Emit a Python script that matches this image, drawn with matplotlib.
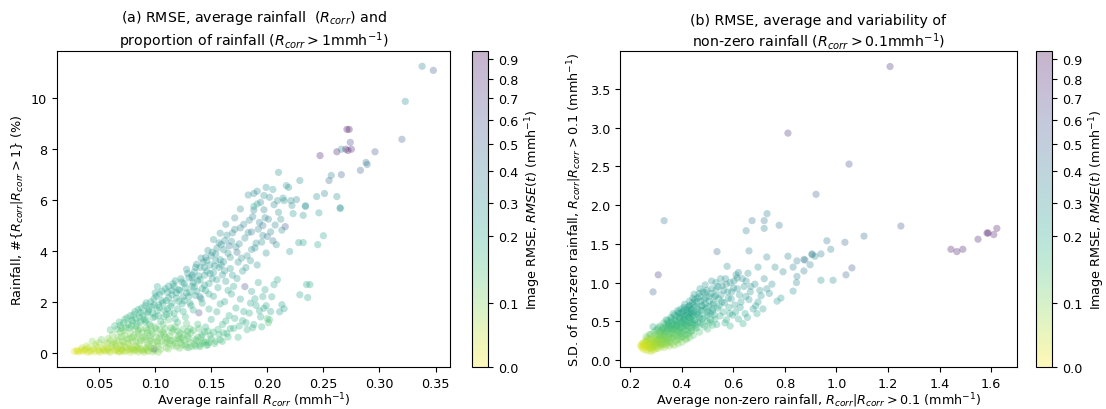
# RMSE vs rainfall statistics, two scatter panels with a stretched colour scale

import numpy as np
import matplotlib
matplotlib.use("Agg")
import matplotlib.pyplot as plt
from matplotlib.colors import FuncNorm

plt.rcParams["font.size"] = 9.2
plt.rcParams["axes.titlesize"] = 10.2

# ---- panel (a): average rainfall vs % of pixels > 1 mm/h, coloured by RMSE ----
a_x = [
    0.028, 0.030, 0.032, 0.034, 0.036, 0.038, 0.040, 0.041, 0.043, 0.045,
    0.046, 0.048, 0.050, 0.051, 0.053, 0.055, 0.056, 0.058, 0.060, 0.061,
    0.063, 0.064, 0.066, 0.068, 0.069, 0.071, 0.073, 0.074, 0.076, 0.078,
    0.079, 0.081, 0.083, 0.085, 0.086, 0.088, 0.090, 0.092, 0.094, 0.098,
    0.100, 0.103, 0.099, 0.044, 0.052, 0.057, 0.035, 0.047, 0.067, 0.082,
    0.058, 0.062, 0.066, 0.070, 0.072, 0.075, 0.078, 0.080, 0.082, 0.084,
    0.086, 0.088, 0.090, 0.092, 0.094, 0.095, 0.097, 0.099, 0.101, 0.103,
    0.104, 0.106, 0.108, 0.110, 0.111, 0.113, 0.115, 0.117, 0.119, 0.121,
    0.123, 0.125, 0.127, 0.130, 0.132, 0.135, 0.138, 0.140, 0.143, 0.146,
    0.150, 0.153, 0.157, 0.160, 0.165, 0.096, 0.107, 0.118, 0.128, 0.112,
    0.060, 0.064, 0.068, 0.070, 0.073, 0.076, 0.078, 0.080, 0.082, 0.084,
    0.086, 0.088, 0.090, 0.092, 0.093, 0.095, 0.097, 0.099, 0.100, 0.102,
    0.104, 0.105, 0.107, 0.109, 0.110, 0.112, 0.114, 0.116, 0.118, 0.119,
    0.121, 0.123, 0.125, 0.127, 0.129, 0.130, 0.132, 0.134, 0.136, 0.137,
    0.139, 0.141, 0.143, 0.144, 0.146, 0.148, 0.150, 0.151, 0.153, 0.155,
    0.156, 0.158, 0.160, 0.162, 0.163, 0.165, 0.167, 0.169, 0.170, 0.172,
    0.174, 0.176, 0.178, 0.180, 0.182, 0.184, 0.186, 0.188, 0.190, 0.192,
    0.194, 0.196, 0.198, 0.200, 0.202, 0.205, 0.207, 0.210, 0.213, 0.216,
    0.196, 0.180, 0.140, 0.139, 0.125, 0.115, 0.133, 0.145, 0.152, 0.158,
    0.163, 0.171, 0.176, 0.183, 0.191, 0.199, 0.166, 0.173, 0.186, 0.102,
    0.130, 0.136, 0.142, 0.145, 0.148, 0.150, 0.152, 0.155, 0.158, 0.160,
    0.162, 0.164, 0.166, 0.168, 0.170, 0.172, 0.174, 0.176, 0.178, 0.182,
    0.184, 0.186, 0.188, 0.190, 0.192, 0.194, 0.196, 0.198, 0.199, 0.200,
    0.201, 0.202, 0.204, 0.206, 0.209, 0.211, 0.213, 0.215, 0.229, 0.235,
    0.236, 0.238, 0.140, 0.147, 0.154,
    0.220, 0.228, 0.232, 0.245, 0.250, 0.232, 0.234, 0.246, 0.265, 0.223,
    0.188, 0.197, 0.205, 0.210, 0.217, 0.219, 0.229, 0.209, 0.215, 0.221,
    0.226, 0.234, 0.222, 0.188, 0.191, 0.244, 0.251, 0.262, 0.265, 0.255,
    0.257, 0.266, 0.247, 0.262, 0.266, 0.270, 0.272, 0.275, 0.274, 0.271,
    0.273, 0.283, 0.288, 0.289, 0.296, 0.320, 0.323, 0.338, 0.348,
    # denser band
    0.062, 0.067, 0.071, 0.074, 0.077, 0.079, 0.081, 0.083, 0.085, 0.087,
    0.089, 0.091, 0.093, 0.094, 0.096, 0.098, 0.100, 0.101, 0.103, 0.105,
    0.106, 0.108, 0.109, 0.111, 0.112, 0.114, 0.115, 0.117, 0.118, 0.120,
    0.121, 0.122, 0.124, 0.126, 0.127, 0.128, 0.129, 0.131, 0.133, 0.134,
    0.135, 0.137, 0.138, 0.140, 0.141, 0.142, 0.144, 0.145, 0.147, 0.148,
    0.149, 0.151, 0.152, 0.154, 0.155, 0.157, 0.158, 0.159, 0.161, 0.162,
    0.164, 0.165, 0.167, 0.168, 0.169, 0.171, 0.173, 0.175, 0.177, 0.179,
    0.181, 0.183, 0.185, 0.187, 0.189, 0.191, 0.193, 0.195, 0.197, 0.199,
    0.201, 0.203, 0.206, 0.208, 0.212, 0.214,
    # denser lower fill
    0.054, 0.059, 0.065, 0.070, 0.072, 0.077, 0.084, 0.087, 0.091, 0.093,
    0.096, 0.102, 0.105, 0.109, 0.112, 0.114, 0.116, 0.120, 0.122, 0.124,
    0.126, 0.128, 0.131, 0.134, 0.137, 0.139, 0.142, 0.144, 0.149, 0.156,
    0.161, 0.163, 0.167, 0.171, 0.175, 0.179, 0.181, 0.185, 0.187, 0.189,
    0.193, 0.195, 0.197, 0.203,
    # crowded core, bottom-left to mid band
    0.031, 0.037, 0.042, 0.049, 0.054, 0.059, 0.065, 0.070, 0.075, 0.080,
    0.084, 0.089, 0.093, 0.097, 0.039, 0.050, 0.060, 0.065, 0.071, 0.077,
    0.069, 0.073, 0.079, 0.083, 0.085, 0.087, 0.091, 0.093, 0.096, 0.098,
    0.100, 0.102, 0.104, 0.107, 0.109, 0.111, 0.113, 0.116, 0.118, 0.120,
    0.122, 0.124, 0.126, 0.129, 0.131, 0.133, 0.136, 0.141, 0.145, 0.147,
    0.066, 0.069, 0.072, 0.075, 0.077, 0.079, 0.081, 0.083, 0.085, 0.087,
    0.089, 0.091, 0.092, 0.094, 0.096, 0.098, 0.099, 0.101, 0.103, 0.104,
    0.106, 0.108, 0.110, 0.111, 0.113, 0.115, 0.117, 0.119, 0.120, 0.122,
    0.124, 0.126, 0.128, 0.130, 0.131, 0.133, 0.135, 0.136, 0.138, 0.140,
    0.142, 0.144, 0.146, 0.148, 0.149, 0.152, 0.154, 0.157, 0.159, 0.161,
]
a_y = [
    0.05, 0.09, 0.03, 0.11, 0.06, 0.14, 0.02, 0.20, 0.08, 0.15,
    0.04, 0.24, 0.10, 0.02, 0.17, 0.31, 0.06, 0.12, 0.02, 0.23,
    0.42, 0.08, 0.15, 0.03, 0.29, 0.11, 0.05, 0.21, 0.36, 0.02,
    0.13, 0.07, 0.26, 0.03, 0.16, 0.08, 0.02, 0.19, 0.05, 0.04,
    0.09, 0.02, 0.15, 0.45, 0.52, 0.38, 0.20, 0.33, 0.05, 0.12,
    0.56, 0.71, 0.49, 0.63, 0.86, 0.54, 0.76, 0.44, 0.92, 0.61,
    0.35, 0.81, 0.51, 0.97, 0.30, 0.66, 0.85, 0.41, 0.62, 0.26,
    0.91, 0.46, 0.72, 0.19, 0.56, 0.36, 0.82, 0.50, 0.24, 0.67,
    0.40, 0.93, 0.31, 0.56, 0.77, 0.34, 0.61, 0.24, 0.46, 0.29,
    0.55, 0.36, 0.71, 0.45, 0.62, 1.05, 1.12, 1.02, 1.15, 1.30,
    0.90, 1.06, 1.21, 0.96, 1.32, 1.11, 1.46, 1.24, 1.62, 1.16,
    1.41, 1.76, 1.31, 1.96, 1.56, 1.12, 1.81, 2.12, 1.42, 1.66,
    2.31, 1.22, 1.96, 2.52, 1.51, 2.16, 1.82, 2.71, 1.33, 2.36,
    2.02, 2.91, 1.62, 2.56, 3.12, 2.21, 1.86, 2.76, 3.36, 2.41,
    3.02, 2.12, 3.56, 2.66, 3.21, 2.31, 3.81, 2.91, 3.41, 4.11,
    2.56, 3.66, 3.06, 4.41, 2.81, 3.91, 3.31, 4.71, 2.61, 4.16,
    3.56, 4.91, 3.21, 4.51, 3.81, 5.21, 4.06, 5.61, 4.31, 4.86,
    5.91, 4.61, 5.31, 4.57, 6.11, 4.40, 5.02, 5.52, 4.82, 4.96,
    5.00, 2.60, 2.20, 1.57, 2.20, 2.45, 2.95, 3.75, 4.45, 4.70,
    5.05, 5.30, 5.65, 6.20, 6.35, 6.50, 4.20, 3.95, 4.75, 2.60,
    0.20, 0.26, 0.71, 1.01, 0.41, 1.31, 0.81, 1.61, 0.51, 1.11,
    2.01, 0.76, 1.46, 2.31, 0.96, 1.76, 0.61, 2.11, 1.26, 0.91,
    1.56, 2.41, 1.11, 1.86, 2.76, 1.41, 2.21, 2.48, 1.85, 1.34,
    1.18, 1.30, 2.20, 2.68, 2.87, 1.61, 1.89, 1.73, 2.28, 2.68,
    2.17, 2.68, 0.30, 0.32, 0.45,
    3.98, 4.33, 4.33, 4.25, 4.60, 5.40, 5.75, 5.50, 5.67, 5.47,
    6.26, 6.18, 6.42, 7.09, 6.57, 6.50, 6.77, 5.98, 5.98, 5.98,
    6.02, 5.78, 5.79, 5.75, 5.85, 6.14, 6.26, 6.14, 5.70, 6.77,
    6.97, 7.00, 7.75, 7.90, 8.00, 8.00, 7.95, 8.00, 8.27, 8.78,
    8.78, 7.17, 7.48, 7.40, 7.90, 8.39, 9.88, 11.26, 11.10,
    # denser band
    0.33, 0.61, 0.44, 0.97, 0.28, 1.05, 0.67, 1.35, 0.88, 1.58,
    0.59, 1.22, 0.78, 1.71, 0.47, 1.38, 2.35, 0.95, 1.88, 0.72,
    2.05, 1.41, 0.38, 1.73, 2.62, 0.98, 2.28, 1.55, 2.83, 1.19,
    2.48, 0.54, 1.92, 2.72, 1.41, 3.28, 0.85, 2.38, 3.05, 1.68,
    2.58, 3.48, 1.12, 2.88, 3.72, 1.95, 3.35, 2.45, 4.02, 1.72,
    3.11, 3.95, 2.22, 3.62, 2.87, 4.32, 1.92, 3.45, 4.05, 3.22,
    4.62, 2.45, 3.75, 4.38, 3.05, 4.85, 2.92, 4.28, 3.72, 5.05,
    3.35, 4.72, 3.62, 5.35, 4.12, 3.45, 5.12, 4.35, 5.62, 3.92,
    5.25, 4.75, 5.82, 4.25, 5.25, 6.08,
    # denser lower fill
    0.08, 0.18, 0.26, 0.06, 0.42, 0.14, 0.22, 0.48, 0.12, 0.38,
    0.22, 0.45, 0.14, 0.62, 0.15, 0.48, 0.28, 0.85, 0.18, 0.58,
    0.72, 0.22, 0.42, 0.88, 0.48, 0.95, 0.38, 0.82, 0.68, 0.92,
    0.78, 1.25, 0.95, 1.35, 1.05, 1.62, 1.18, 1.95, 0.98, 2.12,
    1.65, 1.02, 1.75, 1.62,
    # crowded core, bottom-left to mid band
    0.06, 0.09, 0.05, 0.07, 0.12, 0.06, 0.10, 0.15, 0.08, 0.18,
    0.10, 0.14, 0.09, 0.17, 0.27, 0.40, 0.48, 0.36, 0.28, 0.55,
    0.82, 0.68, 0.60, 0.45, 0.74, 0.95, 0.62, 0.88, 0.55, 0.77,
    1.02, 0.35, 0.58, 0.82, 0.95, 0.42, 0.66, 0.92, 0.38, 0.55,
    0.78, 0.30, 0.48, 0.68, 0.95, 0.25, 0.52, 0.62, 0.42, 0.85,
    0.92, 1.08, 1.18, 1.38, 0.98, 1.28, 1.50, 1.05, 1.70, 1.22,
    1.48, 1.85, 1.28, 1.62, 2.00, 1.55, 1.88, 2.22, 1.45, 1.78,
    2.42, 1.68, 2.05, 2.38, 1.55, 1.95, 2.60, 2.15, 1.72, 2.45,
    2.78, 2.05, 2.35, 2.95, 1.95, 2.62, 3.18, 2.25, 2.82, 3.35,
    2.52, 3.05, 3.62, 2.72, 3.45, 3.15, 3.88, 3.35, 4.25, 3.58,
]
a_rmse = [
    0.03, 0.03, 0.03, 0.04, 0.03, 0.04, 0.04, 0.05, 0.04, 0.05,
    0.04, 0.05, 0.05, 0.04, 0.05, 0.06, 0.05, 0.05, 0.05, 0.06,
    0.07, 0.05, 0.06, 0.06, 0.07, 0.06, 0.06, 0.07, 0.08, 0.06,
    0.07, 0.07, 0.08, 0.07, 0.08, 0.08, 0.08, 0.09, 0.08, 0.09,
    0.09, 0.10, 0.55, 0.09, 0.12, 0.08, 0.05, 0.07, 0.05, 0.07,
    0.09, 0.10, 0.09, 0.10, 0.11, 0.10, 0.10, 0.09, 0.11, 0.10,
    0.10, 0.11, 0.10, 0.12, 0.10, 0.11, 0.12, 0.10, 0.11, 0.10,
    0.12, 0.11, 0.12, 0.10, 0.11, 0.11, 0.12, 0.12, 0.11, 0.12,
    0.12, 0.13, 0.12, 0.13, 0.13, 0.13, 0.14, 0.14, 0.14, 0.15,
    0.15, 0.15, 0.16, 0.16, 0.17, 0.12, 0.13, 0.13, 0.14, 0.14,
    0.15, 0.16, 0.17, 0.15, 0.17, 0.16, 0.18, 0.17, 0.19, 0.16,
    0.18, 0.19, 0.17, 0.20, 0.18, 0.16, 0.20, 0.21, 0.18, 0.19,
    0.22, 0.17, 0.20, 0.22, 0.18, 0.21, 0.20, 0.23, 0.18, 0.22,
    0.20, 0.24, 0.19, 0.22, 0.25, 0.21, 0.20, 0.23, 0.26, 0.22,
    0.24, 0.21, 0.27, 0.23, 0.25, 0.22, 0.28, 0.24, 0.26, 0.30,
    0.23, 0.27, 0.25, 0.30, 0.24, 0.28, 0.26, 0.32, 0.23, 0.30,
    0.27, 0.33, 0.26, 0.31, 0.28, 0.34, 0.30, 0.35, 0.31, 0.33,
    0.35, 0.32, 0.34, 0.38, 0.33, 0.42, 0.35, 0.30, 0.30, 0.55,
    0.40, 0.60, 0.45, 0.60, 0.28, 0.25, 0.30, 0.32, 0.28, 0.30,
    0.32, 0.34, 0.30, 0.30, 0.32, 0.30, 0.40, 0.45, 0.38, 0.22,
    0.15, 0.15, 0.17, 0.18, 0.16, 0.19, 0.17, 0.20, 0.16, 0.18,
    0.21, 0.17, 0.19, 0.22, 0.18, 0.20, 0.17, 0.21, 0.19, 0.18,
    0.20, 0.22, 0.19, 0.20, 0.23, 0.20, 0.22, 0.22, 0.20, 0.15,
    0.15, 0.15, 0.22, 0.22, 0.22, 0.25, 0.22, 0.22, 0.22, 0.20,
    0.22, 0.20, 0.14, 0.15, 0.15,
    0.25, 0.25, 0.22, 0.22, 0.22, 0.28, 0.25, 0.25, 0.25, 0.25,
    0.35, 0.30, 0.25, 0.30, 0.25, 0.30, 0.30, 0.28, 0.28, 0.30,
    0.35, 0.30, 0.28, 0.20, 0.22, 0.30, 0.35, 0.30, 0.30, 0.45,
    0.35, 0.50, 0.85, 0.85, 0.30, 0.80, 0.85, 0.80, 0.60, 0.85,
    0.88, 0.50, 0.45, 0.40, 0.55, 0.50, 0.30, 0.35, 0.55,
    # denser band
    0.08, 0.10, 0.09, 0.13, 0.08, 0.14, 0.11, 0.16, 0.12, 0.18,
    0.11, 0.15, 0.12, 0.19, 0.11, 0.17, 0.22, 0.13, 0.20, 0.12,
    0.21, 0.17, 0.11, 0.19, 0.23, 0.14, 0.22, 0.18, 0.24, 0.16,
    0.23, 0.12, 0.20, 0.24, 0.17, 0.27, 0.14, 0.22, 0.25, 0.19,
    0.23, 0.28, 0.16, 0.24, 0.29, 0.20, 0.26, 0.22, 0.30, 0.19,
    0.25, 0.29, 0.21, 0.27, 0.24, 0.31, 0.20, 0.27, 0.29, 0.26,
    0.32, 0.22, 0.28, 0.31, 0.25, 0.33, 0.24, 0.30, 0.28, 0.34,
    0.27, 0.32, 0.28, 0.35, 0.30, 0.27, 0.34, 0.31, 0.35, 0.29,
    0.33, 0.32, 0.33, 0.30, 0.30, 0.28,
    # denser lower fill
    0.05, 0.06, 0.07, 0.06, 0.09, 0.07, 0.08, 0.10, 0.08, 0.10,
    0.09, 0.11, 0.10, 0.12, 0.10, 0.12, 0.11, 0.13, 0.11, 0.13,
    0.13, 0.12, 0.13, 0.14, 0.14, 0.15, 0.14, 0.15, 0.16, 0.17,
    0.17, 0.19, 0.18, 0.19, 0.18, 0.20, 0.19, 0.21, 0.18, 0.22,
    0.20, 0.18, 0.20, 0.20,
    # crowded core, bottom-left to mid band
    0.03, 0.03, 0.04, 0.04, 0.05, 0.05, 0.05, 0.06, 0.06, 0.07,
    0.07, 0.08, 0.08, 0.09, 0.06, 0.08, 0.09, 0.08, 0.08, 0.10,
    0.11, 0.10, 0.10, 0.10, 0.11, 0.12, 0.11, 0.12, 0.11, 0.12,
    0.13, 0.10, 0.11, 0.12, 0.13, 0.11, 0.12, 0.13, 0.11, 0.12,
    0.13, 0.12, 0.12, 0.13, 0.14, 0.12, 0.13, 0.14, 0.14, 0.15,
    0.15, 0.16, 0.16, 0.17, 0.15, 0.17, 0.18, 0.16, 0.19, 0.17,
    0.18, 0.20, 0.17, 0.19, 0.20, 0.18, 0.20, 0.21, 0.18, 0.19,
    0.22, 0.19, 0.20, 0.22, 0.18, 0.20, 0.23, 0.21, 0.19, 0.22,
    0.24, 0.20, 0.22, 0.25, 0.20, 0.23, 0.26, 0.21, 0.24, 0.26,
    0.22, 0.25, 0.27, 0.23, 0.26, 0.25, 0.28, 0.26, 0.30, 0.27,
]

# ---- panel (b): mean vs s.d. of non-zero rainfall, coloured by RMSE ----
b_x = [
    0.240, 0.244, 0.247, 0.251, 0.254, 0.257, 0.261, 0.264, 0.267, 0.270,
    0.273, 0.277, 0.279, 0.282, 0.285, 0.287, 0.290, 0.293, 0.296, 0.299,
    0.302, 0.305, 0.308, 0.311, 0.314, 0.317, 0.320, 0.323, 0.326, 0.329,
    0.332, 0.335, 0.338, 0.341, 0.344, 0.347, 0.350, 0.353, 0.356, 0.359,
    0.289, 0.275, 0.262, 0.300,
    0.362, 0.365, 0.368, 0.371, 0.374, 0.377, 0.380, 0.383, 0.386, 0.389,
    0.392, 0.395, 0.398, 0.401, 0.404, 0.407, 0.410, 0.413, 0.416, 0.419,
    0.422, 0.425, 0.428, 0.431, 0.434, 0.437, 0.440, 0.443, 0.446, 0.449,
    0.454, 0.459, 0.464, 0.469, 0.474, 0.479, 0.484, 0.489, 0.494, 0.499,
    0.504, 0.509, 0.514, 0.519, 0.524, 0.529, 0.534, 0.539, 0.544, 0.549,
    0.370, 0.380, 0.390, 0.400, 0.410, 0.420, 0.430, 0.440, 0.450, 0.460,
    0.470, 0.480, 0.350, 0.360, 0.330, 0.340, 0.320, 0.310, 0.390, 0.410,
    0.430, 0.450, 0.470, 0.490, 0.400, 0.420, 0.440, 0.460, 0.500, 0.520,
    0.553, 0.557, 0.561, 0.566, 0.570, 0.574, 0.578, 0.583, 0.588, 0.588,
    0.592, 0.597, 0.601, 0.606, 0.611, 0.615, 0.620, 0.620, 0.624, 0.630,
    0.638, 0.642, 0.646, 0.650, 0.657, 0.661, 0.666, 0.677, 0.684, 0.692,
    0.696, 0.696, 0.703, 0.715, 0.720, 0.730, 0.730, 0.750, 0.762, 0.770,
    0.785, 0.793, 0.812, 0.832, 0.832, 0.847, 0.847, 0.845, 0.874, 0.874,
    0.878, 0.898, 0.905, 0.906, 0.917, 0.940, 0.940, 0.963, 0.978, 0.987,
    1.033, 1.037, 1.060, 1.107, 0.576, 0.533, 0.537, 0.661,
    0.309, 0.289, 0.332, 0.650, 0.673, 0.720, 0.720, 0.731, 0.778, 0.921,
    1.049, 0.812, 1.208, 1.250, 1.444, 1.467, 1.490, 1.549, 1.584, 1.588,
    1.610, 1.622,
    # denser core
    0.263, 0.268, 0.271, 0.276, 0.281, 0.284, 0.288, 0.292, 0.295, 0.298,
    0.303, 0.306, 0.309, 0.313, 0.316, 0.319, 0.322, 0.325, 0.328, 0.331,
    0.334, 0.337, 0.340, 0.343, 0.346, 0.349, 0.352, 0.355, 0.358, 0.361,
    0.364, 0.367, 0.370, 0.373, 0.376, 0.379, 0.382, 0.385, 0.388, 0.391,
    0.394, 0.397, 0.400, 0.403, 0.406, 0.409, 0.412, 0.415, 0.418, 0.421,
    0.424, 0.427, 0.430, 0.433, 0.436, 0.439, 0.442, 0.445, 0.448, 0.451,
    0.456, 0.461, 0.466, 0.471, 0.476, 0.481, 0.486, 0.491, 0.496, 0.501,
    0.506, 0.511, 0.516, 0.521, 0.526, 0.531, 0.536, 0.541, 0.546, 0.551,
    0.556, 0.563, 0.568, 0.573, 0.581, 0.586, 0.594, 0.603, 0.609, 0.616,
    0.627, 0.635, 0.648, 0.655, 0.668, 0.687, 0.708, 0.740,
    # crowded core
    0.246, 0.250, 0.256, 0.259, 0.266, 0.269, 0.274, 0.278, 0.283, 0.286,
    0.291, 0.294, 0.297, 0.301, 0.304, 0.307, 0.310, 0.315, 0.318, 0.321,
    0.324, 0.327, 0.330, 0.333, 0.336, 0.339, 0.342, 0.345, 0.348, 0.351,
    0.354, 0.357, 0.360, 0.363, 0.366, 0.369, 0.372, 0.375, 0.378, 0.381,
    0.384, 0.387, 0.390, 0.393, 0.396, 0.399, 0.402, 0.405, 0.408, 0.411,
    0.414, 0.417, 0.420, 0.423, 0.426, 0.429, 0.432, 0.435, 0.438, 0.441,
    0.444, 0.447, 0.452, 0.457, 0.462, 0.467, 0.472, 0.477, 0.482, 0.487,
    0.492, 0.497, 0.502, 0.507, 0.512, 0.517, 0.522, 0.527,
]
b_y = [
    0.19, 0.16, 0.21, 0.14, 0.20, 0.24, 0.13, 0.18, 0.23, 0.12,
    0.16, 0.21, 0.27, 0.11, 0.14, 0.19, 0.23, 0.13, 0.28, 0.17,
    0.21, 0.25, 0.15, 0.19, 0.31, 0.23, 0.17, 0.27, 0.20, 0.34,
    0.16, 0.24, 0.29, 0.19, 0.37, 0.22, 0.31, 0.18, 0.26, 0.41,
    0.43, 0.33, 0.30, 0.38,
    0.21, 0.34, 0.28, 0.19, 0.46, 0.24, 0.38, 0.31, 0.21, 0.51,
    0.27, 0.42, 0.34, 0.23, 0.56, 0.30, 0.47, 0.38, 0.26, 0.61,
    0.33, 0.51, 0.42, 0.29, 0.66, 0.37, 0.56, 0.46, 0.32, 0.71,
    0.41, 0.59, 0.49, 0.36, 0.76, 0.53, 0.64, 0.43, 0.81, 0.58,
    0.69, 0.48, 0.86, 0.63, 0.74, 0.53, 0.91, 0.67, 0.79, 0.57,
    0.40, 0.45, 0.36, 0.48, 0.52, 0.44, 0.55, 0.60, 0.50, 0.66,
    0.55, 0.70, 0.45, 0.50, 0.40, 0.52, 0.36, 0.42, 0.60, 0.65,
    0.70, 0.78, 0.82, 0.87, 0.30, 0.28, 0.38, 0.42, 0.50, 0.45,
    0.84, 0.96, 0.62, 0.74, 1.05, 0.52, 0.88, 0.68, 1.00, 0.44,
    0.79, 0.58, 0.93, 0.71, 1.10, 1.06, 0.53, 1.13, 0.84, 0.75,
    0.47, 0.95, 0.60, 1.02, 1.12, 0.78, 0.88, 0.66, 0.98, 0.60,
    0.75, 1.20, 0.90, 0.66, 1.05, 0.92, 1.33, 0.98, 1.20, 0.76,
    0.80, 1.14, 1.34, 0.89, 1.20, 1.28, 1.08, 1.00, 1.30, 1.15,
    1.29, 1.23, 1.37, 1.36, 1.34, 1.37, 1.03, 1.54, 1.43, 1.03,
    1.52, 1.10, 1.19, 1.60, 1.21, 1.00, 1.40, 1.41,
    1.10, 0.88, 1.80, 1.67, 1.80, 1.80, 1.70, 1.89, 1.74, 2.14,
    2.53, 2.93, 3.79, 1.73, 1.43, 1.40, 1.43, 1.56, 1.64, 1.64,
    1.62, 1.70,
    # denser core
    0.26, 0.17, 0.29, 0.15, 0.33, 0.24, 0.16, 0.36, 0.21, 0.32,
    0.15, 0.40, 0.27, 0.22, 0.44, 0.33, 0.20, 0.39, 0.29, 0.48,
    0.21, 0.36, 0.43, 0.27, 0.51, 0.34, 0.41, 0.23, 0.55, 0.38,
    0.45, 0.60, 0.31, 0.52, 0.42, 0.57, 0.26, 0.48, 0.62, 0.39,
    0.55, 0.66, 0.43, 0.37, 0.63, 0.53, 0.72, 0.45, 0.58, 0.38,
    0.68, 0.55, 0.76, 0.48, 0.62, 0.42, 0.74, 0.58, 0.85, 0.52,
    0.69, 0.80, 0.58, 0.92, 0.64, 0.46, 0.78, 0.97, 0.67, 0.40,
    0.82, 0.60, 1.02, 0.72, 0.58, 0.83, 0.46, 0.95, 0.70, 1.05,
    0.75, 0.90, 0.48, 0.98, 0.80, 0.60, 0.88, 1.02, 0.62, 0.92,
    0.68, 1.05, 0.82, 0.55, 0.95, 0.70, 0.83, 0.86,
    # crowded core
    0.18, 0.22, 0.17, 0.21, 0.20, 0.25, 0.19, 0.23, 0.18, 0.27,
    0.20, 0.25, 0.19, 0.28, 0.22, 0.33, 0.24, 0.36, 0.27, 0.31,
    0.22, 0.42, 0.27, 0.37, 0.31, 0.46, 0.24, 0.40, 0.48, 0.28,
    0.44, 0.35, 0.53, 0.29, 0.47, 0.39, 0.58, 0.33, 0.50, 0.43,
    0.64, 0.35, 0.55, 0.46, 0.30, 0.60, 0.50, 0.41, 0.68, 0.57,
    0.33, 0.49, 0.64, 0.45, 0.60, 0.35, 0.70, 0.52, 0.65, 0.48,
    0.80, 0.62, 0.45, 0.75, 0.62, 0.86, 0.48, 0.70, 0.88, 0.55,
    0.73, 0.90, 0.62, 0.76, 0.52, 0.92, 0.66, 0.82,
]
b_rmse = [
    0.03, 0.03, 0.04, 0.03, 0.04, 0.05, 0.04, 0.04, 0.05, 0.04,
    0.05, 0.05, 0.07, 0.05, 0.05, 0.06, 0.07, 0.05, 0.08, 0.06,
    0.07, 0.08, 0.06, 0.07, 0.10, 0.08, 0.07, 0.09, 0.08, 0.12,
    0.07, 0.09, 0.10, 0.08, 0.13, 0.09, 0.11, 0.08, 0.10, 0.14,
    0.20, 0.15, 0.12, 0.18,
    0.09, 0.12, 0.11, 0.09, 0.15, 0.10, 0.13, 0.12, 0.10, 0.16,
    0.11, 0.14, 0.13, 0.10, 0.17, 0.12, 0.15, 0.14, 0.11, 0.18,
    0.13, 0.16, 0.15, 0.12, 0.19, 0.14, 0.17, 0.16, 0.13, 0.20,
    0.15, 0.18, 0.17, 0.14, 0.21, 0.18, 0.19, 0.16, 0.22, 0.19,
    0.20, 0.17, 0.23, 0.20, 0.21, 0.18, 0.24, 0.21, 0.22, 0.19,
    0.16, 0.18, 0.15, 0.18, 0.19, 0.17, 0.20, 0.20, 0.18, 0.21,
    0.19, 0.22, 0.17, 0.18, 0.15, 0.20, 0.14, 0.16, 0.22, 0.23,
    0.24, 0.25, 0.26, 0.27, 0.12, 0.12, 0.14, 0.15, 0.17, 0.16,
    0.26, 0.28, 0.22, 0.24, 0.30, 0.20, 0.27, 0.23, 0.29, 0.18,
    0.25, 0.21, 0.28, 0.24, 0.30, 0.29, 0.20, 0.32, 0.26, 0.25,
    0.19, 0.28, 0.22, 0.30, 0.30, 0.26, 0.28, 0.24, 0.30, 0.22,
    0.25, 0.30, 0.28, 0.24, 0.32, 0.30, 0.32, 0.30, 0.30, 0.25,
    0.25, 0.33, 0.35, 0.28, 0.35, 0.38, 0.35, 0.32, 0.40, 0.38,
    0.38, 0.35, 0.40, 0.38, 0.30, 0.38, 0.30, 0.40, 0.35, 0.30,
    0.45, 0.45, 0.55, 0.45, 0.30, 0.25, 0.45, 0.35,
    0.70, 0.50, 0.40, 0.35, 0.40, 0.40, 0.35, 0.35, 0.40, 0.50,
    0.60, 0.75, 0.75, 0.55, 0.85, 0.85, 0.85, 0.85, 0.88, 0.90,
    0.85, 0.85,
    # denser core
    0.06, 0.04, 0.08, 0.04, 0.10, 0.07, 0.05, 0.12, 0.07, 0.11,
    0.06, 0.14, 0.10, 0.08, 0.15, 0.12, 0.08, 0.14, 0.11, 0.17,
    0.09, 0.13, 0.16, 0.11, 0.18, 0.13, 0.15, 0.10, 0.19, 0.14,
    0.16, 0.20, 0.12, 0.18, 0.15, 0.20, 0.11, 0.17, 0.21, 0.15,
    0.19, 0.22, 0.16, 0.14, 0.21, 0.18, 0.23, 0.16, 0.20, 0.14,
    0.22, 0.19, 0.24, 0.17, 0.21, 0.15, 0.23, 0.20, 0.25, 0.18,
    0.22, 0.24, 0.20, 0.26, 0.21, 0.17, 0.24, 0.27, 0.22, 0.16,
    0.25, 0.21, 0.28, 0.23, 0.20, 0.25, 0.18, 0.27, 0.23, 0.28,
    0.24, 0.26, 0.19, 0.28, 0.25, 0.22, 0.27, 0.29, 0.23, 0.28,
    0.24, 0.30, 0.27, 0.22, 0.29, 0.25, 0.27, 0.28,
    # crowded core
    0.03, 0.04, 0.03, 0.04, 0.04, 0.06, 0.05, 0.05, 0.05, 0.07,
    0.06, 0.07, 0.06, 0.08, 0.07, 0.11, 0.08, 0.12, 0.09, 0.10,
    0.08, 0.15, 0.09, 0.13, 0.11, 0.16, 0.09, 0.14, 0.17, 0.10,
    0.16, 0.13, 0.18, 0.11, 0.16, 0.14, 0.20, 0.12, 0.17, 0.15,
    0.21, 0.13, 0.19, 0.16, 0.12, 0.20, 0.17, 0.15, 0.22, 0.19,
    0.13, 0.17, 0.21, 0.16, 0.20, 0.14, 0.22, 0.18, 0.21, 0.17,
    0.24, 0.20, 0.17, 0.23, 0.20, 0.25, 0.18, 0.22, 0.25, 0.19,
    0.23, 0.26, 0.21, 0.24, 0.19, 0.26, 0.22, 0.25,
]

# colour scale: stretched at the low end
cb_vals = [0.0, 0.1, 0.2, 0.3, 0.4, 0.5, 0.6, 0.7, 0.8, 0.9, 0.935]
cb_pos = [0.0, 0.204, 0.414, 0.520, 0.620, 0.707, 0.782, 0.850, 0.913, 0.974, 1.0]


def fwd(v):
    return np.interp(v, cb_vals, cb_pos)


def inv(p):
    return np.interp(p, cb_pos, cb_vals)


norm = FuncNorm((fwd, inv), vmin=0.0, vmax=0.935)

fig = plt.figure(figsize=(11.06, 4.10), dpi=100)

ax1 = fig.add_axes([0.0515, 0.1024, 0.3555, 0.7707])
cax1 = fig.add_axes([0.4270, 0.1024, 0.0145, 0.7707])
ax2 = fig.add_axes([0.5606, 0.1024, 0.3589, 0.7707])
cax2 = fig.add_axes([0.9368, 0.1024, 0.0145, 0.7707])

cb_label = "Image RMSE, $RMSE(t)$ (mmh$^{-1}$)"

sc1 = ax1.scatter(a_x, a_y, c=a_rmse, cmap="viridis_r", norm=norm,
                  s=27, alpha=0.3, linewidths=0)
ax1.set_xlim(0.0125, 0.363)
ax1.set_ylim(-0.56, 11.86)
ax1.set_xticks([0.05, 0.10, 0.15, 0.20, 0.25, 0.30, 0.35])
ax1.set_xlabel("Average rainfall $R_{corr}$ (mmh$^{-1}$)", labelpad=0.5)
ax1.set_ylabel("Rainfall, #{$R_{corr}$|$R_{corr} > 1$} (%)")
ax1.set_title("(a) RMSE, average rainfall  ($R_{corr}$) and\n"
              "proportion of rainfall ($R_{corr} > 1$mmh$^{-1}$)", pad=3)
cb1 = fig.colorbar(sc1, cax=cax1)
cb1.set_ticks(cb_vals[:-1])
cb1.set_label(cb_label, labelpad=3.5)

sc2 = ax2.scatter(b_x, b_y, c=b_rmse, cmap="viridis_r", norm=norm,
                  s=27, alpha=0.3, linewidths=0)
ax2.set_xlim(0.161, 1.70)
ax2.set_ylim(-0.09, 3.99)
ax2.set_xlabel("Average non-zero rainfall, $R_{corr}|R_{corr} > 0.1$ (mmh$^{-1}$)",
               labelpad=0.5)
ax2.set_ylabel("S.D. of non-zero rainfall, $R_{corr}|R_{corr} > 0.1$ (mmh$^{-1}$)")
ax2.set_title("(b) RMSE, average and variability of\n"
              "non-zero rainfall ($R_{corr} > 0.1$mmh$^{-1}$)", pad=3)
cb2 = fig.colorbar(sc2, cax=cax2)
cb2.set_ticks(cb_vals[:-1])
cb2.set_label(cb_label, labelpad=3.5)

fig.savefig("out.png", dpi=100)
